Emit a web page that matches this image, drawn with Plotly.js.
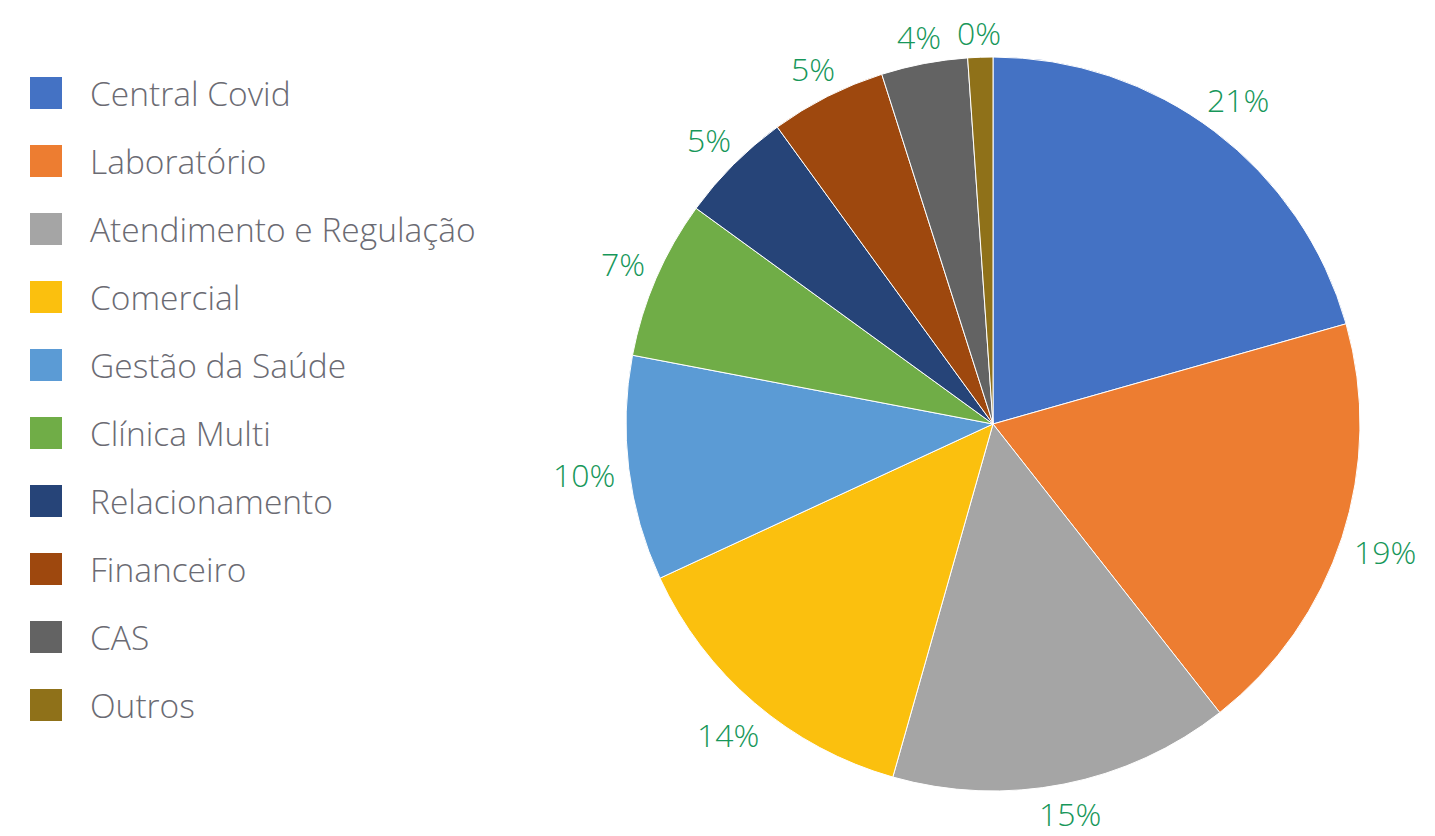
<!DOCTYPE html>
<html>
<head>
<meta charset="utf-8">
<script src="https://cdn.plot.ly/plotly-3.0.1.min.js"></script>
<style>html,body{margin:0;padding:0;background:#fff;}#chart{width:1435px;height:836px;}</style>
</head>
<body>
<div id="chart"></div>
<script>
const categories = ["Central Covid","Laboratório","Atendimento e Regulação","Comercial","Gestão da Saúde","Clínica Multi","Relacionamento","Financeiro","CAS","Outros"];
const shares = [20.6, 18.8, 15.0, 13.7, 9.9, 7.0, 5.0, 5.1, 3.8, 1.1];
const shareLabels = ["21%","19%","15%","14%","10%","7%","5%","5%","4%","0%"];
const colors = ["#4472C4","#ED7D31","#A5A5A5","#FBC00E","#5B9BD5","#70AD47","#264478","#9E480E","#636363","#8F7119"];

const W = 1435, H = 836;
const FONT = "'Open Sans', 'Noto Sans', sans-serif";
const legendColor = "#6b6b73";
const labelColor = "#17975A";
const labelSize = 32;

// pie geometry (pixels)
const cx = 993, cy = 424, R = 367;
const dom = {x:[(cx-R)/W,(cx+R)/W], y:[(H-cy-R)/H,(H-cy+R)/H]};

const annotations = [];
const shapes = [];
// percentage labels outside the slices, on slice mid-angles, box edge kept a gap from the rim
const total = shares.reduce((a,b)=>a+b,0);
let cum = 0;
shares.forEach((v,i)=>{
  const mid = (cum + v/2)/total*2*Math.PI;
  cum += v;
  const hw = shareLabels[i].length*0.31*labelSize;
  const hh = 10;
  const s = Math.sin(mid), c = Math.cos(mid);
  const d = R + 14 + Math.abs(s)*hw + Math.abs(c)*hh;
  const px = cx + d*s;
  const py = cy - d*c;
  annotations.push({xref:'paper',yref:'paper',x:px/W,y:1-py/H,xanchor:'center',yanchor:'middle',
    text:shareLabels[i],showarrow:false,font:{family:FONT,size:labelSize,color:labelColor,weight:300}});
});
// manual legend
categories.forEach((c,i)=>{
  const yc = 93 + i*68;
  shapes.push({type:'rect',xref:'paper',yref:'paper',x0:30/W,x1:62/W,y0:1-(yc-16)/H,y1:1-(yc+16)/H,
    fillcolor:colors[i],line:{width:0}});
  annotations.push({xref:'paper',yref:'paper',x:88/W,y:1-yc/H,xanchor:'left',yanchor:'middle',
    text:c,showarrow:false,font:{family:FONT,size:33.5,color:legendColor,weight:300}});
});

const data = [{
  type:'pie',
  labels:categories,
  values:shares,
  sort:false,
  direction:'clockwise',
  rotation:0,
  textinfo:'none',
  hoverinfo:'label+percent',
  marker:{colors:colors,line:{color:'#ffffff',width:1}},
  domain:dom,
  showlegend:false
}];

const layout = {
  width:W,height:H,
  margin:{l:0,r:0,t:0,b:0},
  paper_bgcolor:'#fff',
  showlegend:false,
  annotations:annotations,
  shapes:shapes,
  font:{family:FONT}
};
Plotly.newPlot('chart',data,layout,{displayModeBar:false,staticPlot:true});
</script>
</body>
</html>
